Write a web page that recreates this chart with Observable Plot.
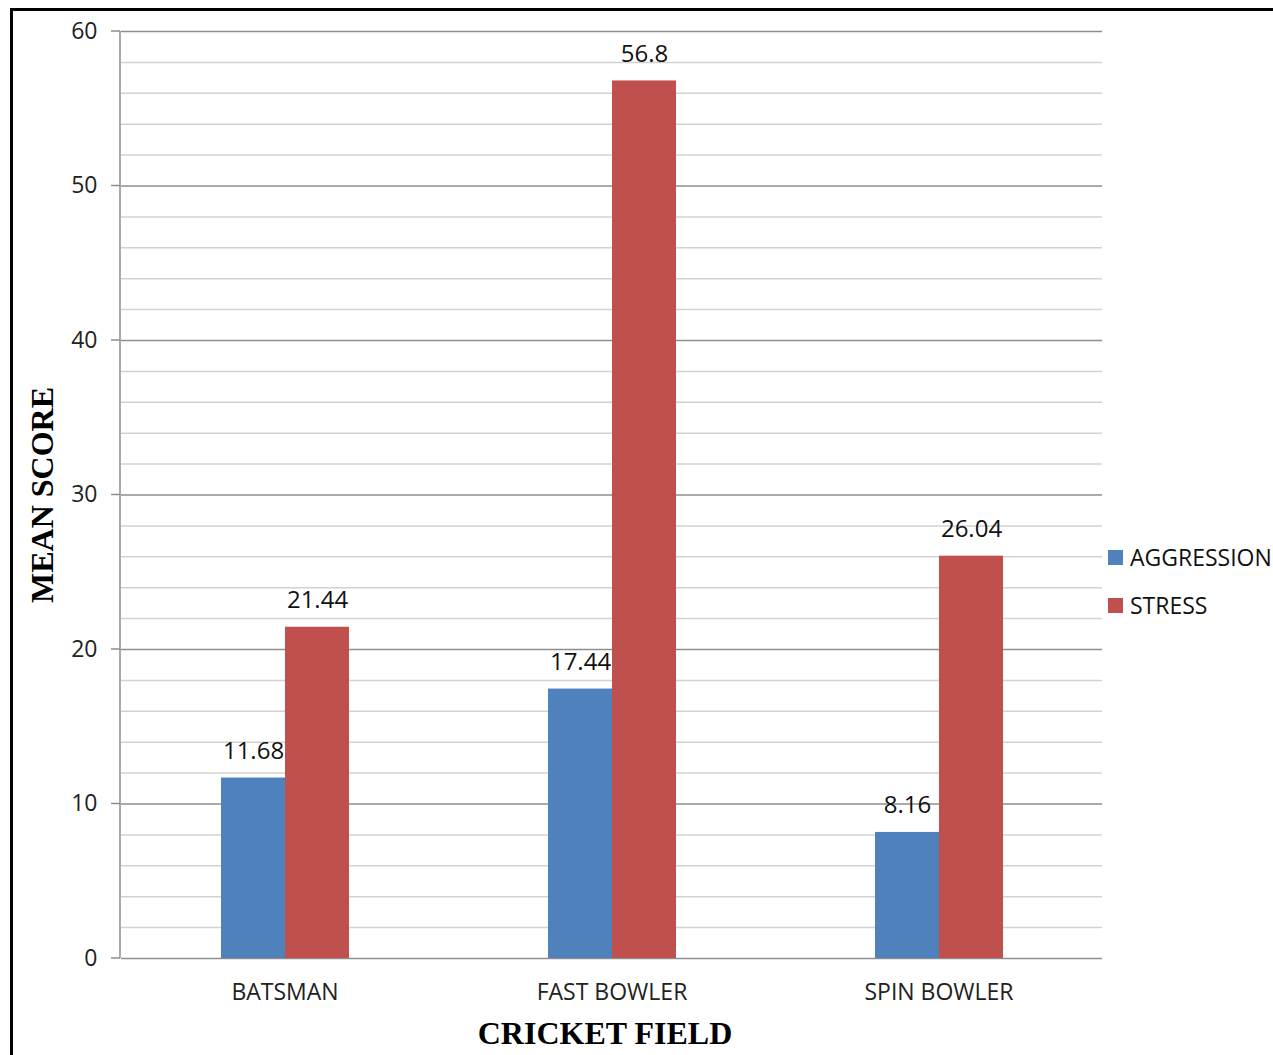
<!DOCTYPE html>
<html>
<head>
<meta charset="utf-8">
<script src="https://cdn.jsdelivr.net/npm/d3@7"></script>
<script src="https://cdn.jsdelivr.net/npm/@observablehq/plot@0.6"></script>
<style>
  html, body { margin: 0; padding: 0; background: #fff; overflow: hidden; }
  #page { position: relative; width: 1273px; height: 1055px; overflow: hidden; background: #fff; }
  #frame { position: absolute; left: 10px; top: 8px; width: 1400px; height: 1200px; border: 3px solid #000; box-sizing: border-box; }
  #chart { position: absolute; left: 0; top: 0; }
  .axis-title { position: absolute; font-family: "Liberation Serif", "Times New Roman", serif; font-weight: bold; font-size: 32px; color: #000; white-space: nowrap; }
  #xtitle { left: 605px; top: 1033px; transform: translate(-50%, -50%); }
  #ytitle { left: 42px; top: 495px; transform: translate(-50%, -50%) rotate(-90deg); }
  #legend { position: absolute; left: 1108px; top: 533px; font-family: "Open Sans", sans-serif; font-size: 23px; color: #111; }
  .item { display: flex; align-items: center; height: 48px; }
  .swatch { width: 15px; height: 15px; margin-right: 7px; }
</style>
</head>
<body>
<div id="page">
  <div id="frame"></div>
  <div id="chart"></div>
  <div id="xtitle" class="axis-title">CRICKET FIELD</div>
  <div id="ytitle" class="axis-title">MEAN SCORE</div>
  <div id="legend"></div>
</div>
<script>
// Mean aggression and stress scores by playing role
const categories = ["BATSMAN", "FAST BOWLER", "SPIN BOWLER"];
const series = ["AGGRESSION", "STRESS"];
const aggression = [11.68, 17.44, 8.16];
const stress = [21.44, 56.8, 26.04];
const yTicks = [0, 10, 20, 30, 40, 50, 60];
const minorTicks = [2, 4, 6, 8, 12, 14, 16, 18, 22, 24, 26, 28, 32, 34, 36, 38, 42, 44, 46, 48, 52, 54, 56, 58];
const colors = ["#4F81BD", "#C0504D"];

const rows = categories.flatMap((c, i) => [
  {category: c, series: series[0], value: aggression[i]},
  {category: c, series: series[1], value: stress[i]}
]);

const chart = Plot.plot({
  width: 1273,
  height: 1055,
  marginLeft: 120,
  marginRight: 170,
  marginTop: 31,
  marginBottom: 97,
  style: {fontFamily: "Open Sans, sans-serif", fontSize: "23px", color: "#222", background: "transparent"},
  fx: {domain: categories, padding: 0, label: null, tickSize: 0, tickPadding: 25, fontSize: 24.5},
  x: {domain: series, paddingInner: 0, paddingOuter: 1.52, axis: null},
  y: {domain: [0, 60], ticks: yTicks, label: null, tickSize: 0, tickPadding: 24},
  color: {domain: series, range: colors},
  marks: [
    Plot.ruleY(minorTicks, {stroke: "#d2d2d2", strokeWidth: 1.5}),
    Plot.ruleY(yTicks, {stroke: "#8e8e8e", strokeWidth: 1.5}),
    Plot.barY(rows, {fx: "category", x: "series", y: "value", fill: "series"}),
    Plot.text(rows, {
      fx: "category", x: "series", y: "value",
      text: d => String(d.value),
      dy: -27, fontSize: 24, fill: "#111"
    })
  ]
});

// axis line and tick marks on the left edge of the plot area
const svg = d3.select(chart);
const y = chart.scale("y");
const g = svg.append("g").attr("stroke", "#8e8e8e").attr("stroke-width", 1.5);
g.append("line").attr("x1", 120).attr("x2", 120).attr("y1", y.apply(60)).attr("y2", y.apply(0));
g.selectAll("line.tick").data(yTicks).join("line").attr("class", "tick")
  .attr("x1", 111).attr("x2", 120).attr("y1", d => y.apply(d)).attr("y2", d => y.apply(d));

document.getElementById("chart").append(chart);

const legend = d3.select("#legend");
series.forEach((s, i) => {
  const item = legend.append("div").attr("class", "item");
  item.append("div").attr("class", "swatch").style("background", colors[i]);
  item.append("span").text(s);
});
</script>
</body>
</html>
